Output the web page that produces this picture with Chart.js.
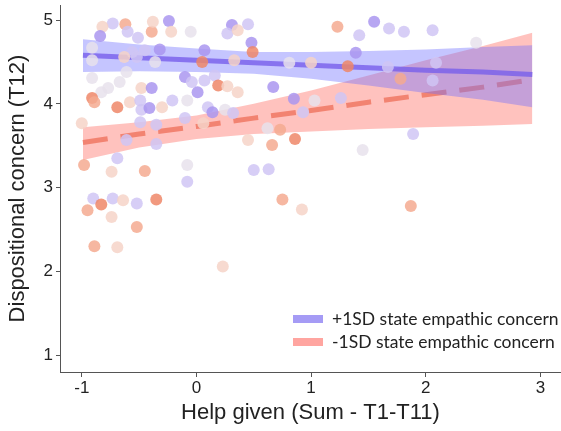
<!DOCTYPE html>
<html>
<head>
<meta charset="utf-8">
<script src="https://cdn.jsdelivr.net/npm/chart.js@4.4.1/dist/chart.umd.min.js"></script>
<style>
  html, body { margin: 0; padding: 0; background: #fff; }
  #wrap { width: 561px; height: 431px; }
</style>
</head>
<body>
<div id="wrap"><canvas id="grafica" width="561" height="431"></canvas></div>
<script>
// Help given (x) and dispositional concern (y) per participant, plus state empathic concern level
// (0 = high/purple ... 5 = low/salmon)
const helpX = [
  -0.73, -0.82, -0.62, -0.60, -0.51, -0.84, -0.39, -0.38, -0.24, -0.22,
  -0.05, -0.91, -0.56, -0.32, -0.45, -0.36, -0.63, 0.07, 0.05, -0.91,
  -0.61, -0.91, -0.67, -0.48, -0.39, -0.10, -0.04, 0.07, 0.16, 0.19,
  0.01, -0.77, -0.83, -0.91, -0.89, -0.69, -0.58, -0.49, -0.48, -0.41,
  -0.30, -0.21, -0.08, 0.10, 0.14, 0.25, -1.00, -0.49, -0.35, 0.31,
  0.27, 0.45, 0.36, 0.48, 0.49, 0.33, 0.81, 1.00, 1.23, 1.55,
  1.68, 1.81, 2.06, 1.42, 1.39, 1.32, 1.67, 2.09, 2.44, 1.78,
  2.06, 0.67, 0.36, 0.27, 0.85, 1.03, 1.26, 0.32, 0.93, 0.73,
  0.62, 0.45, 0.66, 0.86, 1.45, 0.50, 0.63, 0.75, 0.92, 1.89,
  1.87, 0.23, -0.98, -0.69, -0.74, -0.45, -0.08, -0.08, -0.35, -0.61,
  -0.90, -0.83, -0.95, -0.73, -0.64, -0.52, -0.35, -0.74, -0.52, -0.89,
  -0.69, -0.52, 0.06, -0.10
];
const concernY = [
  4.96, 4.92, 4.95, 4.86, 4.79, 4.81, 4.86, 4.98, 4.99, 4.86,
  4.86, 4.67, 4.62, 4.65, 4.64, 4.50, 4.56, 4.64, 4.50, 4.52,
  4.38, 4.31, 4.26, 4.19, 4.19, 4.32, 4.26, 4.28, 4.34, 4.22,
  4.14, 4.19, 4.14, 4.07, 4.02, 3.96, 4.02, 4.04, 3.93, 3.95,
  3.96, 4.04, 4.04, 3.96, 3.90, 3.93, 3.77, 3.78, 3.75, 4.94,
  4.84, 4.95, 4.88, 4.73, 4.62, 4.52, 4.49, 4.49, 4.92, 4.98,
  4.90, 4.86, 4.88, 4.82, 4.61, 4.45, 4.44, 4.49, 4.73, 4.30,
  4.28, 4.20, 4.14, 4.21, 4.06, 4.04, 4.07, 3.89, 3.90, 3.69,
  3.71, 3.57, 3.51, 3.58, 3.45, 3.21, 3.22, 2.86, 2.74, 3.64,
  2.78, 2.06, 3.27, 3.35, 3.19, 3.20, 3.27, 3.07, 3.52, 3.57,
  2.87, 2.80, 2.73, 2.87, 2.85, 2.81, 2.86, 2.65, 2.53, 2.30,
  2.29, 4.56, 3.77, 3.83
];
const stateLevel = [
  1, 3, 4, 1, 1, 0, 4, 3, 0, 3,
  2, 2, 1, 0, 1, 2, 3, 0, 5, 2,
  2, 2, 2, 3, 0, 0, 1, 1, 1, 5,
  0, 2, 2, 5, 4, 5, 3, 1, 1, 0,
  3, 1, 2, 1, 0, 2, 3, 1, 1, 0,
  1, 1, 3, 0, 5, 3, 2, 3, 4, 0,
  1, 1, 1, 1, 0, 5, 1, 1, 2, 4,
  1, 0, 3, 3, 0, 2, 1, 1, 1, 4,
  2, 3, 4, 5, 2, 1, 1, 4, 3, 1,
  4, 3, 4, 1, 3, 4, 2, 1, 1, 1,
  1, 5, 4, 1, 3, 1, 5, 3, 4, 4,
  3, 1, 3, 1
];

// Fitted lines with confidence bands
const fitX = [-0.99, -0.5, 0, 0.5, 1, 1.5, 2, 2.5, 2.93];
const plusFit = [4.58, 4.55, 4.52, 4.49, 4.46, 4.43, 4.40, 4.38, 4.35];
const plusUpper = [4.77, 4.71, 4.66, 4.62, 4.62, 4.63, 4.65, 4.68, 4.70];
const plusLower = [4.38, 4.39, 4.38, 4.36, 4.30, 4.22, 4.13, 4.05, 3.96];
const minusFit = [3.54, 3.64, 3.73, 3.83, 3.92, 4.02, 4.11, 4.20, 4.29];
const minusUpper = [3.72, 3.78, 3.86, 4.00, 4.16, 4.34, 4.52, 4.69, 4.85];
const minusLower = [3.33, 3.48, 3.58, 3.64, 3.67, 3.70, 3.72, 3.74, 3.76];

const xTicks = [-1, 0, 1, 2, 3];
const yTicks = [1, 2, 3, 4, 5];
const legendLabels = ['+1SD state empathic concern', '-1SD state empathic concern'];

// colours
const paleta = [
  'rgba(170,150,240,0.85)',
  'rgba(208,198,245,0.85)',
  'rgba(232,226,236,0.85)',
  'rgba(246,212,200,0.85)',
  'rgba(245,170,145,0.85)',
  'rgba(238,135,105,0.85)'
];
const azulBanda = 'rgba(110,110,255,0.40)';
const rosaBanda = 'rgba(255,120,110,0.45)';
const azulLinea = 'rgba(120,95,235,0.8)';
const rosaLinea = 'rgba(240,120,100,0.85)';
const legendColors = ['rgba(165,155,245,1)', 'rgba(255,165,160,1)'];

const pares = (xs, ys) => xs.map((x, i) => ({ x: x, y: ys[i] }));
const ejeColor = '#555';
const fuenteEjes = '"Liberation Sans", Arial, sans-serif';

// legend drawn inside the plot area, bottom right
const leyendaInterna = {
  id: 'leyendaInterna',
  afterDraw(chart) {
    const ctx = chart.ctx;
    ctx.save();
    ctx.font = '17.5px Lato, "Open Sans", sans-serif';
    ctx.textBaseline = 'middle';
    legendLabels.forEach((txt, i) => {
      const y = 319 + i * 23;
      ctx.fillStyle = legendColors[i];
      ctx.fillRect(293, y - 4, 30, 8);
      ctx.fillStyle = '#222';
      ctx.fillText(txt, 332, y);
    });
    ctx.restore();
  }
};

new Chart(document.getElementById('grafica'), {
  type: 'scatter',
  data: {
    datasets: [
      {
        label: 'participants',
        data: pares(helpX, concernY),
        pointRadius: 6,
        pointHoverRadius: 6,
        pointBorderWidth: 0,
        pointBackgroundColor: stateLevel.map(l => paleta[l]),
        order: 0
      },
      {
        label: legendLabels[0],
        data: pares(fitX, plusFit),
        showLine: true,
        pointRadius: 0,
        borderColor: azulLinea,
        borderWidth: 5,
        order: 1
      },
      {
        label: 'plus upper',
        data: pares(fitX, plusUpper),
        showLine: true,
        pointRadius: 0,
        borderWidth: 0,
        backgroundColor: azulBanda,
        fill: '+1',
        order: 2
      },
      {
        label: 'plus lower',
        data: pares(fitX, plusLower),
        showLine: true,
        pointRadius: 0,
        borderWidth: 0,
        order: 2
      },
      {
        label: legendLabels[1],
        data: pares(fitX, minusFit),
        showLine: true,
        pointRadius: 0,
        borderColor: rosaLinea,
        borderWidth: 5,
        borderDash: [25, 13],
        order: 3
      },
      {
        label: 'minus upper',
        data: pares(fitX, minusUpper),
        showLine: true,
        pointRadius: 0,
        borderWidth: 0,
        backgroundColor: rosaBanda,
        fill: '+1',
        order: 4
      },
      {
        label: 'minus lower',
        data: pares(fitX, minusLower),
        showLine: true,
        pointRadius: 0,
        borderWidth: 0,
        order: 4
      }
    ]
  },
  options: {
    responsive: false,
    animation: false,
    layout: { autoPadding: false, padding: { top: 5, right: 0, left: 0, bottom: 0 } },
    plugins: {
      legend: { display: false },
      tooltip: { enabled: false }
    },
    scales: {
      x: {
        type: 'linear',
        min: -1.19,
        max: 3.18,
        afterBuildTicks: scale => { scale.ticks = xTicks.map(v => ({ value: v })); },
        afterFit: scale => {
          scale.height = 59;
          scale.paddingLeft = 0;
          scale.paddingRight = 0;
        },
        grid: { drawOnChartArea: false, tickLength: 5, color: ejeColor },
        border: { color: ejeColor, width: 1 },
        ticks: {
          color: '#222',
          padding: 1,
          font: { family: fuenteEjes, size: 17 }
        },
        title: {
          display: true,
          text: 'Help given (Sum - T1-T11)',
          color: '#222',
          padding: { top: 0, bottom: 5 },
          font: { family: fuenteEjes, size: 22 }
        }
      },
      y: {
        type: 'linear',
        min: 0.8,
        max: 5.18,
        afterBuildTicks: scale => { scale.ticks = yTicks.map(v => ({ value: v })); },
        afterFit: scale => {
          scale.width = 60;
          scale.paddingTop = 0;
          scale.paddingBottom = 0;
        },
        grid: { drawOnChartArea: false, tickLength: 4, color: ejeColor },
        border: { color: ejeColor, width: 1 },
        ticks: {
          color: '#222',
          padding: 3,
          font: { family: fuenteEjes, size: 17 }
        },
        title: {
          display: true,
          text: 'Dispositional concern (T12)',
          color: '#222',
          padding: { top: 5, bottom: 0 },
          font: { family: fuenteEjes, size: 22 }
        }
      }
    }
  },
  plugins: [leyendaInterna]
});
</script>
</body>
</html>
